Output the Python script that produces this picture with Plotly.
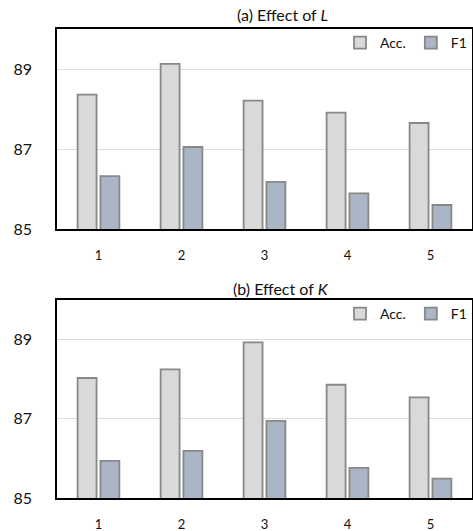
import plotly.graph_objects as go

categories = ["1", "2", "3", "4", "5"]
acc_L = [88.36, 89.13, 88.21, 87.91, 87.65]
f1_L = [86.32, 87.05, 86.18, 85.89, 85.60]
acc_K = [88.03, 88.25, 88.93, 87.86, 87.54]
f1_K = [85.94, 86.19, 86.95, 85.76, 85.49]
y_ticks = [85, 87, 89]
titles = ["(a) Effect of <i>L</i>", "(b) Effect of <i>K</i>"]

W, H = 473, 531
FONT = "Lato"
ACC_FILL = "#d9d9d9"
F1_FILL = "#aab6c5"
EDGE = "#888888"
TXT = "#111"

fig = go.Figure()

panels = [
    (acc_L, f1_L, "x", "y", "legend"),
    (acc_K, f1_K, "x2", "y2", "legend2"),
]
for acc, f1, xa, ya, lg in panels:
    fig.add_trace(go.Bar(x=categories, y=acc, name="Acc.", xaxis=xa, yaxis=ya,
                         marker=dict(color=ACC_FILL, line=dict(color=EDGE, width=1.8)),
                         legend=lg, legendgroup="acc" + lg))
    fig.add_trace(go.Bar(x=categories, y=f1, name="F1", xaxis=xa, yaxis=ya,
                         marker=dict(color=F1_FILL, line=dict(color=EDGE, width=1.8)),
                         legend=lg, legendgroup="f1" + lg))

def ydom(top_px, bot_px):
    return [1 - bot_px / H, 1 - top_px / H]

top_dom = ydom(29, 229)
bot_dom = ydom(300, 498)

yax = dict(range=[85, 90], tickvals=y_ticks, showgrid=True, gridcolor="#dcdcdc",
           gridwidth=1, showline=True, linecolor="black", linewidth=1.5, mirror=True,
           ticks="", tickfont=dict(size=16, color=TXT, family=FONT),
           ticklabelstandoff=20, zeroline=False, automargin=False)
xax = dict(showline=True, linecolor="black", linewidth=1.5, mirror=True,
           ticks="", tickfont=dict(size=13, color=TXT, family=FONT),
           ticklabelstandoff=14, showgrid=False, automargin=False)

legend_common = dict(orientation="h", x=1, xanchor="right", yanchor="top",
                     bgcolor="rgba(0,0,0,0)", font=dict(size=14, family=FONT, color=TXT),
                     itemwidth=30, traceorder="normal")

fig.update_layout(
    width=W, height=H,
    margin=dict(l=57, r=1, t=0, b=0, autoexpand=False),
    paper_bgcolor="white", plot_bgcolor="white",
    barmode="group", bargap=0.45, bargroupgap=0.17,
    font=dict(family=FONT, size=14, color=TXT),
    xaxis=dict(domain=[0, 1], anchor="y", **xax),
    yaxis=dict(domain=top_dom, anchor="x", **yax),
    xaxis2=dict(domain=[0, 1], anchor="y2", **xax),
    yaxis2=dict(domain=bot_dom, anchor="x2", **yax),
    legend=dict(y=top_dom[1] + 2 / H, **legend_common),
    legend2=dict(y=bot_dom[1] + 2 / H, **legend_common),
    showlegend=True,
)

fig.add_annotation(text=titles[0], x=257 / W, xref="paper", y=1 - 15 / H, yref="paper",
                   xanchor="center", yanchor="middle",
                   showarrow=False, font=dict(size=16, family=FONT, color=TXT))
fig.add_annotation(text=titles[1], x=255 / W, xref="paper", y=1 - 288 / H, yref="paper",
                   xanchor="center", yanchor="middle",
                   showarrow=False, font=dict(size=16, family=FONT, color=TXT))

fig.write_html("out.html", config={"displayModeBar": False},
               post_script="document.body.style.margin='0';document.body.style.overflow='hidden';")
